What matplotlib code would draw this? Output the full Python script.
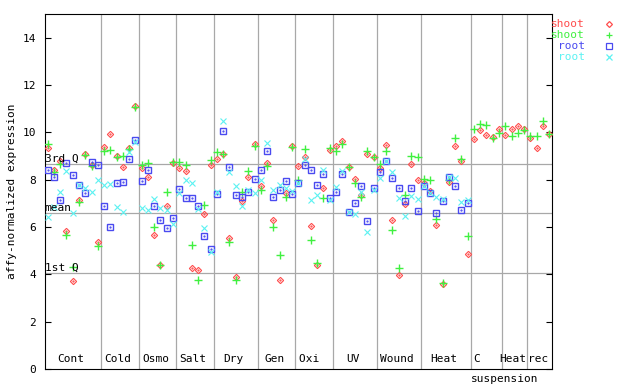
import numpy as np
import matplotlib
matplotlib.use("Agg")
import matplotlib.pyplot as plt
from matplotlib.lines import Line2D

# condiciones (grupos en el eje x) y numero de muestras en cada uno
grupos = ["Cont", "Cold", "Osmo", "Salt", "Dry", "Gen", "Oxi ", "UV",
          "Wound", "Heat", "C  ", "Heat", "rec"]
tamanos = [9, 6, 6, 6, 7, 6, 6, 7, 7, 8, 5, 4, 4]

# lineas de referencia
q3 = 8.68
media = 6.61
q1 = 4.07

# serie shoot (rombo rojo)
shoot_a = [9.36, 8.43, 8.81, 5.83, 3.72, 7.13, 9.08, 8.63, 5.37,
           9.37, 9.93, 9.01, 8.54, 9.33, 11.12,
           8.49, 8.12, 5.65, 4.38, 6.88, 8.70,
           8.50, 8.36, 4.26, 4.18, 6.55, 8.64,
           8.87, 9.08, 5.52, 3.90, 7.08, 8.12, 9.52,
           7.75, 8.70, 6.29, 3.75, 7.44, 9.42,
           8.57, 8.97, 6.03, 4.38, 7.64, 9.25,
           9.43, 9.64, 8.54, 8.02, 7.36, 9.08, 8.95,
           8.49, 9.46, 6.29, 3.96, 6.96, 8.66, 7.98,
           7.85, 7.51, 6.07, 3.58, 7.89, 9.42, 8.78, 4.85,
           9.71, 10.09, 9.88, 9.80, 10.15,
           9.88, 10.15, 10.26, 10.14,
           9.76, 9.33, 10.29, 9.93]

# serie shoot (cruz verde)
shoot_b = [9.52, 8.32, 8.67, 5.67, 4.30, 7.05, 9.04, 8.56, 5.21,
           9.22, 9.26, 8.95, 8.99, 9.30, 11.07,
           8.63, 8.70, 5.99, 4.38, 7.47, 8.73,
           8.73, 8.61, 5.24, 3.75, 6.93, 8.83,
           9.19, 9.08, 5.37, 3.75, 7.50, 8.36, 9.43,
           7.56, 8.60, 5.99, 4.81, 7.26, 9.37,
           7.98, 9.30, 5.44, 4.47, 7.22, 9.35,
           9.22, 9.50, 8.54, 7.85, 7.29, 9.22, 8.95,
           8.66, 9.22, 5.86, 4.26, 7.36, 8.99, 8.95,
           8.02, 7.98, 6.33, 3.61, 7.98, 9.76, 8.87, 5.61,
           10.14, 10.35, 10.31, 9.76, 9.97,
           10.26, 9.84, 9.97, 10.09,
           9.84, 9.84, 10.49, 9.93]

# serie root (cuadrado azul), sin datos en suspension / heat rec
root_a = [8.40, 8.12, 7.13, 8.70, 8.20, 7.78, 7.44, 8.76, 8.61,
          6.88, 5.99, 7.85, 7.89, 8.87, 9.69,
          7.94, 8.40, 6.89, 6.29, 5.95, 6.38,
          7.61, 7.22, 7.22, 6.88, 5.61, 5.06,
          7.40, 10.07, 8.53, 7.36, 7.27, 7.47, 8.03,
          8.40, 9.22, 7.27, 7.56, 7.94, 7.39,
          7.85, 8.63, 8.40, 7.78, 8.23, 7.22,
          7.50, 8.23, 6.62, 7.01, 7.72, 6.26, 7.64,
          8.32, 8.81, 8.06, 7.64, 7.09, 7.64, 6.67,
          7.72, 7.43, 6.58, 7.09, 8.11, 7.72, 6.71, 7.01]

# serie root (aspa cian)
root_b = [6.41, 6.86, 7.47, 8.36, 6.58, 7.78, 7.64, 7.47, 7.98,
          7.78, 7.81, 6.84, 6.62, 9.19, 9.59,
          6.79, 6.71, 7.17, 6.79, 6.71, 6.12,
          7.43, 7.98, 7.85, 6.78, 5.95, 4.93,
          7.50, 10.49, 8.32, 7.75, 6.88, 7.58, 7.43,
          7.98, 9.54, 7.56, 7.78, 7.64, 7.51,
          7.85, 8.87, 7.13, 7.34, 8.40, 7.13,
          7.71, 8.37, 6.62, 6.54, 7.47, 5.78, 7.56,
          8.06, 8.81, 8.32, 7.22, 6.46, 7.30, 7.17,
          7.72, 7.43, 7.26, 7.17, 8.10, 8.06, 7.05, 7.13]

ROJO = "#ff4c4c"
VERDE = "#40f040"
AZUL = "#4a4af0"
CIAN = "#5cf2f2"
GRIS = "#a8a8a8"
FUENTE = "DejaVu Sans Mono"

plt.rcParams["font.family"] = FUENTE
plt.rcParams["font.size"] = 8

fig = plt.figure(figsize=(6.4, 3.84), dpi=100)
ax = fig.add_axes([44.5 / 640, 15.2 / 384, 507.8 / 640, 354.5 / 384])

n = sum(tamanos)
ax.set_xlim(0, n)
ax.set_ylim(0, 15)

# separadores de grupo
bordes = np.cumsum(tamanos)
for b in bordes[:-1]:
    ax.axvline(b, color=GRIS, lw=0.9, zorder=1)

# cuartiles y media
for val, txt in [(q3, "3rd Q"), (media, "mean"), (q1, "1st Q")]:
    ax.axhline(val, color=GRIS, lw=0.9, zorder=1)
    ax.text(0.05, val, txt, ha="left", va="bottom", fontsize=8, zorder=5)

# puntos
x_all = np.arange(n) + 0.5
xa = x_all[:len(shoot_a)]
xr = x_all[:len(root_a)]
ax.plot(xa, shoot_a, ls="none", marker="D", ms=3.2, mfc="none", mec=ROJO,
        mew=0.8, zorder=3)
ax.plot(xa, shoot_a, ls="none", marker=".", ms=1.2, color=ROJO, zorder=3)
ax.plot(xa, shoot_b, ls="none", marker="+", ms=6, mew=1.0, color=VERDE,
        zorder=3)
ax.plot(xr, root_a, ls="none", marker="s", ms=4.2, mfc="none", mec=AZUL,
        mew=1.0, zorder=3)
ax.plot(xr, root_a, ls="none", marker=".", ms=1.2, color=AZUL, zorder=3)
ax.plot(xr, root_b, ls="none", marker="x", ms=4.5, mew=0.8, color=CIAN,
        zorder=4)

# etiquetas de grupo dentro del grafico
inicio = bordes - np.array(tamanos)
for g, ini, t in zip(grupos, inicio, tamanos):
    ax.text(ini + t / 2 - 0.3, 0.2, g, ha="center", va="bottom", fontsize=8)
ax.text(73.4, -0.2, "suspension", ha="center", va="top", fontsize=8,
        clip_on=False)

# ejes
ax.set_yticks(np.arange(0, 15, 2))
ax.set_xticks([])
ax.tick_params(axis="y", direction="in", length=4, width=0.8, left=True,
               right=True, pad=6, labelsize=8)
for s in ax.spines.values():
    s.set_linewidth(0.8)
ax.set_ylabel("affy-normalized expression", fontsize=8, labelpad=4)

# leyenda a mano, estilo gnuplot
etiquetas = [("shoot", ROJO, "D"), ("shoot", VERDE, "+"),
             ("root", AZUL, "s"), ("root", CIAN, "x")]
for k, (lab, col, mk) in enumerate(etiquetas):
    yy = (384 - 24 - k * 11) / 384
    fig.text(585 / 640, yy, lab, color=col, ha="right", va="center",
             fontsize=8)
    if mk in "Ds":
        fig.add_artist(Line2D([609 / 640], [yy], marker=mk,
                              ms=3.0 if mk == "D" else 3.8, mfc="none",
                              mec=col, mew=0.9, ls="none"))
    else:
        fig.add_artist(Line2D([609 / 640], [yy], marker=mk, ms=4.5, mew=0.9,
                              color=col, ls="none"))

fig.savefig("out.png", dpi=100)
